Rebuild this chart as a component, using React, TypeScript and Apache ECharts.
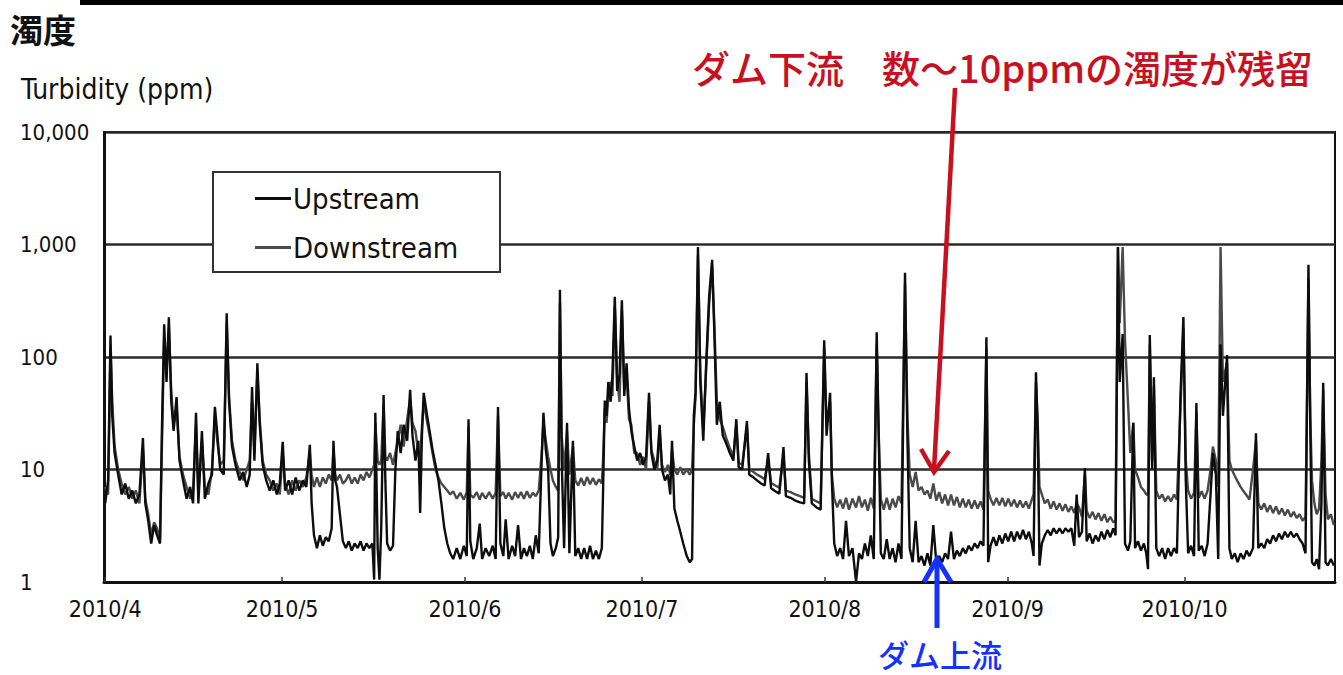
import React, { useEffect, useRef } from "react";
import * as echarts from "echarts";

// Day offsets from 2010/4/1 and turbidity readings (ppm)
const days = [
  0.0, 0.5, 0.9, 1.2, 1.6, 2.2, 2.8, 3.4, 4.0, 4.6, 5.2, 5.8, 6.4, 6.8, 7.3, 7.8, 8.3, 8.8, 9.3, 9.6,
  10.0, 10.4, 10.8, 11.2, 11.6, 12.1, 12.6, 13.2, 13.8, 14.4, 14.9, 15.4, 15.8, 16.4, 16.9, 17.5, 18.1, 18.6, 19.0, 19.5,
  20.1, 20.6, 21.0, 21.5, 22.1, 22.8, 23.4, 24.0, 24.5, 24.9, 25.3, 25.8, 26.2, 26.7, 27.3, 27.9, 28.5, 29.1, 29.6, 30.1,
  30.5, 31.1, 31.7, 32.3, 32.9, 33.5, 34.1, 34.7, 35.0, 35.4, 35.9, 36.4, 36.9, 37.4, 37.9, 38.4, 38.7, 39.0, 39.3, 39.8,
  40.3, 40.8, 41.3, 41.8, 42.3, 42.8, 43.3, 43.8, 44.3, 44.8, 45.3, 45.6, 45.8, 46.2, 46.5, 46.8, 47.2, 47.5, 47.8, 48.3,
  48.8, 49.2, 49.6, 50.1, 50.6, 51.2, 51.7, 52.1, 52.6, 53.1, 53.4, 53.7, 54.0, 54.5, 55.0, 55.5, 56.0, 56.5, 57.0, 57.5,
  58.0, 58.5, 59.0, 59.6, 60.2, 60.8, 61.3, 61.6, 61.9, 62.4, 63.0, 63.5, 63.9, 64.5, 65.1, 65.7, 66.2, 66.6, 67.0, 67.5,
  67.9, 68.4, 69.0, 69.5, 70.0, 70.5, 71.0, 71.5, 72.0, 72.5, 73.0, 73.5, 74.0, 74.3, 74.7, 75.1, 75.5, 75.9, 76.4, 76.8,
  77.1, 77.4, 77.8, 78.3, 78.7, 79.3, 79.7, 80.2, 80.7, 81.2, 81.7, 82.2, 82.7, 83.2, 83.7, 84.2, 84.4, 84.7, 85.0, 85.3,
  85.7, 86.0, 86.4, 86.8, 87.2, 87.6, 88.0, 88.4, 88.8, 89.2, 89.7, 90.2, 90.7, 91.2, 91.7, 92.2, 92.6, 93.1, 93.6, 94.0,
  94.4, 94.9, 95.4, 95.8, 96.1, 96.5, 97.0, 97.5, 98.0, 98.6, 99.1, 99.5, 99.8, 100.1, 100.5, 100.9, 101.4, 101.9, 102.4, 102.9,
  103.3, 103.7, 104.2, 104.7, 105.3, 105.9, 106.5, 107.0, 107.4, 108.0, 108.8, 109.2, 109.8, 110.5, 111.2, 111.8, 112.4, 112.9, 113.6, 114.3,
  115.0, 115.4, 116.2, 117.0, 117.8, 118.5, 118.9, 119.3, 119.8, 120.6, 121.3, 121.9, 122.3, 122.9, 123.2, 123.6, 124.1, 124.6, 125.1, 125.6,
  126.1, 126.7, 127.3, 127.8, 128.3, 128.8, 129.3, 129.8, 130.3, 130.8, 131.1, 131.5, 132.0, 132.5, 133.0, 133.5, 134.0, 134.5, 135.0, 135.6,
  136.0, 136.4, 136.9, 137.4, 137.9, 138.4, 138.9, 139.4, 139.9, 140.4, 140.9, 141.4, 141.9, 142.4, 142.9, 143.4, 143.9, 144.4, 144.9, 145.4,
  145.9, 146.4, 146.9, 147.4, 147.9, 148.4, 148.9, 149.4, 149.7, 150.1, 150.6, 151.1, 151.6, 152.1, 152.6, 153.1, 153.6, 154.1, 154.6, 155.1,
  155.6, 156.1, 156.6, 157.1, 157.4, 157.8, 158.1, 158.4, 158.8, 159.3, 159.8, 160.3, 160.8, 161.3, 161.8, 162.3, 162.8, 163.3, 163.8, 164.3,
  164.7, 165.1, 165.6, 166.1, 166.4, 166.9, 167.4, 167.9, 168.4, 168.9, 169.4, 169.9, 170.4, 170.9, 171.3, 171.7, 172.0, 172.5, 172.9, 173.4,
  173.8, 174.3, 174.6, 175.1, 175.6, 176.1, 176.5, 176.8, 177.1, 177.5, 177.8, 178.2, 178.7, 179.2, 179.7, 180.2, 180.7, 181.2, 181.7, 182.3,
  182.8, 183.2, 183.6, 184.1, 184.6, 185.0, 185.4, 185.9, 186.4, 186.9, 187.4, 187.8, 188.3, 188.7, 189.1, 189.5, 190.2, 190.6, 191.0, 191.5,
  192.0, 192.5, 193.0, 193.5, 194.0, 194.6, 195.1, 195.5, 196.0, 196.5, 197.0, 197.5, 198.0, 198.5, 199.0, 199.5, 200.0, 200.5, 201.0, 201.5,
  202.0, 202.5, 203.0, 203.5, 204.0, 204.3, 204.6, 205.0, 205.4, 205.8, 206.2, 206.5, 206.9, 207.3, 207.8, 208.3,
];

const upstream = [
  5, 8, 155, 30, 14, 9, 6, 7.5, 5.5, 6.5, 5, 6, 19, 5, 3.5, 2.2, 3.2, 2.6, 2.2, 20,
  195, 60, 225, 40, 22, 44, 12, 8, 5.5, 7, 5, 32, 5, 22, 5.5, 7.5, 9, 36, 21, 10,
  9, 245, 40, 16, 11, 8, 9.5, 7, 9, 54, 12, 88, 25, 11, 8, 6.5, 8, 6, 7.5, 17.6,
  6.5, 8, 6, 8.5, 6.5, 8, 7, 16.6, 5, 2.6, 2.0, 2.6, 2.1, 2.5, 2.3, 3, 18, 8, 7, 4,
  2.3, 2.0, 2.3, 1.9, 2.2, 2.0, 2.3, 1.9, 2.2, 2.0, 2.2, 1.05, 32, 2.0, 1.05, 3, 46, 8, 2.2, 1.9,
  2.1, 10, 22, 14, 25, 18, 51, 20, 12, 18, 4.1, 20, 48, 32, 22, 15, 11, 8, 5, 3,
  2.2, 1.8, 1.6, 2.0, 1.6, 2.1, 1.7, 28, 2.3, 1.6, 2.0, 3.3, 1.6, 2.0, 1.7, 2.1, 1.6, 36, 2.2, 1.7,
  3.6, 1.6, 2.1, 1.7, 3.2, 1.6, 2.0, 1.7, 2.1, 1.6, 2.6, 1.8, 12, 32, 15, 10, 2.2, 1.7, 2.0, 2.5,
  395, 12, 2.0, 26, 1.8, 18, 1.7, 2.0, 1.6, 2.0, 1.6, 2.1, 1.6, 1.9, 1.6, 2.0, 6, 41, 30, 60,
  40, 70, 343, 50, 70, 320, 45, 88, 35, 22, 16, 12, 14, 11, 13, 48, 14, 10, 12, 25,
  10, 8, 9, 6, 18, 4.5, 3.5, 2.8, 2.2, 1.7, 1.5, 1.6, 30, 50, 950, 60, 18, 90, 350, 730,
  150, 25, 40, 20, 17, 14, 12, 28, 10.5, 10, 27, 9, 8.6, 8, 7.5, 7.2, 14, 6.8, 6.4, 6.1,
  15.8, 5.8, 5.6, 5.3, 5.1, 5, 72, 12, 5, 4.6, 4.4, 141, 20, 48, 8, 2.2, 1.7, 2.0, 1.6, 3.5,
  1.7, 2.0, 1.0, 1.8, 1.6, 2.2, 1.7, 2.6, 1.6, 166, 27, 1.8, 1.6, 2.4, 1.6, 2.0, 1.5, 2.2, 1.6, 560,
  20, 2.0, 1.5, 3.5, 1.5, 1.7, 1.4, 1.8, 1.4, 3.2, 1.5, 1.7, 1.5, 1.8, 1.6, 2.8, 1.6, 1.9, 1.7, 2.0,
  1.8, 2.1, 1.9, 2.2, 2.0, 2.3, 2.1, 150, 1.5, 2.1, 2.5, 2.1, 2.6, 2.2, 2.7, 2.3, 2.8, 2.3, 2.8, 2.4,
  2.9, 2.4, 2.8, 2.2, 1.7, 73, 22, 1.4, 2.2, 2.6, 2.9, 2.6, 3.0, 2.7, 3.0, 2.7, 3.0, 2.8, 3.0, 2.1,
  6, 2.5, 2.8, 10.3, 2.3, 2.7, 2.2, 2.6, 2.3, 2.8, 2.4, 2.9, 2.5, 3.0, 2.6, 950, 60, 160, 2.2, 1.9,
  2.3, 26, 2.0, 2.3, 1.9, 2.2, 1.8, 1.3, 157, 10, 66, 2.0, 1.7, 2.0, 1.6, 2.0, 1.7, 2.0, 1.8, 45,
  227, 8, 1.8, 2.1, 1.7, 39, 1.9, 2.1, 1.7, 2.2, 6, 14, 9, 1.6, 130, 30, 104, 2, 1.6, 1.8,
  1.5, 1.8, 1.6, 1.9, 1.7, 2.0, 21, 2.0, 2.2, 2.0, 2.4, 2.2, 2.6, 2.3, 2.7, 2.4, 2.8, 2.5, 2.8, 2.5,
  2.7, 2.4, 2.2, 1.8, 660, 27, 1.5, 1.4, 1.6, 1.3, 5, 59, 1.5, 1.4, 1.6, 1.4,
];

const downstream = [
  7, 6, 120, 40, 16, 10, 7.5, 6, 7, 5.5, 6.5, 5, 15, 5.5, 4, 2.6, 3.4, 3, 2.4, 14,
  150, 70, 180, 50, 25, 35, 13, 9, 7, 5.5, 6.5, 25, 6, 18, 7, 6, 10, 30, 18, 11,
  12, 200, 45, 18, 12, 9.5, 8, 10, 12, 40, 14, 75, 28, 12, 9, 8, 6.5, 7.5, 6, 14,
  7.5, 6, 8, 6.5, 8, 7, 8.5, 14, 9, 7, 8.5, 7, 8.5, 7.5, 9, 8, 15, 9, 8, 9,
  7.5, 8, 9, 7.5, 8.5, 7.5, 9, 8, 9.5, 8.5, 10, 11, 26, 12, 11, 12, 38, 13, 12, 14,
  11, 14, 18, 25, 16, 28, 42, 26, 22, 14, 12, 24, 40, 28, 20, 14, 10, 8.5, 7.5, 7,
  6.5, 6, 6.4, 5.5, 6.2, 5.4, 6.3, 24, 6, 5.6, 6.3, 5.4, 6.2, 5.5, 6.3, 5.5, 6.2, 30, 5.8, 6.3,
  5.5, 6.2, 5.4, 6.3, 5.6, 6.3, 5.5, 6.4, 5.6, 6.2, 5.8, 6.5, 14, 26, 18, 13, 10, 8, 7, 6.5,
  300, 20, 10, 22, 9, 16, 8, 7.2, 8.4, 7.2, 8.6, 7.4, 8.4, 7.3, 8.2, 7.5, 12, 35, 26, 45,
  60, 45, 280, 65, 40, 260, 55, 70, 28, 25, 14, 14, 11, 13, 10, 40, 15, 12, 10, 22,
  11, 9.5, 11, 9, 15, 10, 9, 10.5, 9, 10, 9, 10, 25, 45, 800, 70, 22, 80, 300, 650,
  180, 40, 28, 24, 19, 15.5, 13, 25, 11.5, 11, 24, 10, 9.6, 9, 8.6, 8.2, 12, 7.6, 7.2, 6.9,
  13, 6.5, 6.3, 6, 5.8, 5.6, 60, 14, 5.5, 5.2, 5, 120, 25, 40, 9, 5.5, 4.6, 5.4, 4.5, 5.6,
  4.4, 5.5, 4.6, 5.8, 4.6, 5.4, 4.3, 5.6, 4.5, 130, 24, 5.5, 4.4, 5.6, 4.4, 5.5, 4.6, 5.8, 5, 450,
  30, 9, 7, 9.5, 6.5, 7, 6, 6.5, 5.5, 7.5, 5.3, 6.3, 5, 6, 4.8, 6, 4.8, 5.7, 4.6, 5.5,
  4.6, 5.4, 4.5, 5.3, 4.5, 5.2, 4.4, 120, 6.5, 5.5, 4.8, 5.6, 4.8, 5.6, 4.7, 5.5, 4.7, 5.4, 4.6, 5.3,
  4.6, 5.2, 4.5, 5.4, 6, 60, 27, 7, 6, 5, 5.4, 4.5, 5.2, 4.4, 5, 4.3, 4.9, 4.2, 4.7, 4.1,
  5, 4.6, 3.8, 9, 4.3, 3.7, 4.2, 3.6, 4.1, 3.5, 4.0, 3.4, 3.8, 3.4, 3.5, 950, 200, 950, 140, 40,
  14, 26, 10, 8.5, 7, 6.5, 6, 6, 130, 12, 55, 6.5, 5.5, 6, 5.2, 5.8, 5.2, 6.0, 5.4, 35,
  180, 12, 6.5, 5.5, 6.2, 32, 5.6, 6.4, 5.5, 6.5, 10, 16, 12, 7, 950, 60, 90, 12, 10, 8.8,
  7.8, 7, 6.4, 5.9, 5.4, 10, 18, 5, 4.4, 5, 4.2, 4.8, 4.1, 4.7, 4.0, 4.5, 3.9, 4.4, 3.8, 4.2,
  3.7, 4.0, 3.5, 3.8, 500, 30, 8, 5, 4, 4.5, 12, 50, 6, 3.6, 4, 3.2,
];

// Month starts (day offsets) and their tick labels
const monthStarts = [0, 30, 61, 91, 122, 153, 183];
const monthLabels = ["2010/4", "2010/5", "2010/6", "2010/7", "2010/8", "2010/9", "2010/10"];

const NARROW = '"DejaVu Sans Condensed", "Liberation Sans Narrow", sans-serif';
const JP = '"Noto Sans CJK JP", "Noto Sans CJK SC", sans-serif';

export default function App() {
  const ref = useRef<HTMLDivElement>(null);

  useEffect(() => {
    if (!ref.current) return;
    const chart = echarts.init(ref.current, undefined, { renderer: "svg" });

    const upData = days.map((d, i) => [d, upstream[i]]);
    const downData = days.map((d, i) => [d, downstream[i]]);

    chart.setOption({
      animation: false,
      backgroundColor: "#ffffff",
      grid: {
        left: 104,
        right: 8,
        top: 132,
        bottom: 93,
        show: true,
        borderColor: "#111",
        borderWidth: 2,
        backgroundColor: "transparent",
      },
      legend: {
        orient: "vertical",
        left: 255,
        top: 184,
        itemGap: 20,
        itemWidth: 36,
        itemHeight: 3,
        padding: 0,
        z: 6,
        icon: "rect",
        data: ["Upstream", "Downstream"],
        textStyle: { fontFamily: NARROW, fontSize: 29, color: "#111", padding: [0, 0, 0, -3] },
      },
      xAxis: {
        type: "value",
        min: -0.2,
        max: 208.5,
        axisLine: { show: true, lineStyle: { color: "#111", width: 3 } },
        axisTick: {
          show: true,
          inside: true,
          length: 5,
          customValues: monthStarts,
          lineStyle: { color: "#333", width: 1.5 },
        },
        axisLabel: {
          customValues: monthStarts,
          formatter: (v: number) => {
            const i = monthStarts.indexOf(Math.round(v));
            return i >= 0 ? monthLabels[i] : "";
          },
          fontFamily: NARROW,
          fontSize: 23,
          color: "#111",
          margin: 15,
        },
        splitLine: { show: false },
      },
      yAxis: {
        type: "log",
        logBase: 10,
        min: 1,
        max: 10000,
        axisLine: { show: true, lineStyle: { color: "#111", width: 2 } },
        axisTick: { show: false },
        axisLabel: {
          formatter: (v: number) => Math.round(v).toLocaleString("en-US"),
          fontFamily: NARROW,
          fontSize: 22,
          color: "#111",
          align: "left",
          margin: 84,
        },
        splitLine: { show: true, lineStyle: { color: "#2a2a2a", width: 2.5 } },
      },
      series: [
        {
          name: "Downstream",
          type: "line",
          data: downData,
          symbol: "none",
          z: 2,
          lineStyle: { color: "#4a4a4a", width: 2.4 },
          itemStyle: { color: "#4a4a4a" },
        },
        {
          name: "Upstream",
          type: "line",
          data: upData,
          symbol: "none",
          z: 3,
          lineStyle: { color: "#0d0d0d", width: 2.4 },
          itemStyle: { color: "#0d0d0d" },
        },
      ],
      graphic: [
        { type: "rect", shape: { x: 80, y: 0, width: 1263, height: 5 }, style: { fill: "#000" } },
        {
          type: "text",
          x: 10,
          y: 29,
          style: { text: "濁度", fontFamily: JP, fontWeight: "bold", fontSize: 33, fill: "#111", verticalAlign: "middle" },
        },
        {
          type: "text",
          x: 21,
          y: 89,
          style: { text: "Turbidity (ppm)", fontFamily: NARROW, fontSize: 28, fill: "#111", verticalAlign: "middle" },
        },
        {
          type: "rect",
          z: 5,
          shape: { x: 213, y: 172, width: 287, height: 100 },
          style: { fill: "#fff", stroke: "#333", lineWidth: 2 },
        },
        {
          type: "text",
          x: 692,
          y: 66,
          style: {
            text: "ダム下流　数～10ppmの濁度が残留",
            fontFamily: JP,
            fontWeight: 500,
            fontSize: 38,
            fill: "#c8101e",
            verticalAlign: "middle",
          },
        },
        {
          type: "line",
          z: 10,
          shape: { x1: 955, y1: 88, x2: 934, y2: 470 },
          style: { stroke: "#c8101e", lineWidth: 4.5 },
        },
        {
          type: "polyline",
          z: 10,
          shape: { points: [[921, 449], [934, 472], [949, 451]] },
          style: { stroke: "#c8101e", lineWidth: 4.5, fill: "none" },
        },
        {
          type: "line",
          z: 10,
          shape: { x1: 937, y1: 560, x2: 937, y2: 628 },
          style: { stroke: "#1530ff", lineWidth: 5 },
        },
        {
          type: "polyline",
          z: 10,
          shape: { points: [[924, 582], [937, 559], [951, 582]] },
          style: { stroke: "#1530ff", lineWidth: 5, fill: "none" },
        },
        {
          type: "text",
          x: 878,
          y: 653,
          style: {
            text: "ダム上流",
            fontFamily: JP,
            fontWeight: 500,
            fontSize: 31,
            fill: "#1530ff",
            verticalAlign: "middle",
          },
        },
      ],
    });

    return () => chart.dispose();
  }, []);

  return (
    <div
      ref={ref}
      style={{ position: "fixed", left: 0, top: 0, width: 1343, height: 675, background: "#fff" }}
    />
  );
}
